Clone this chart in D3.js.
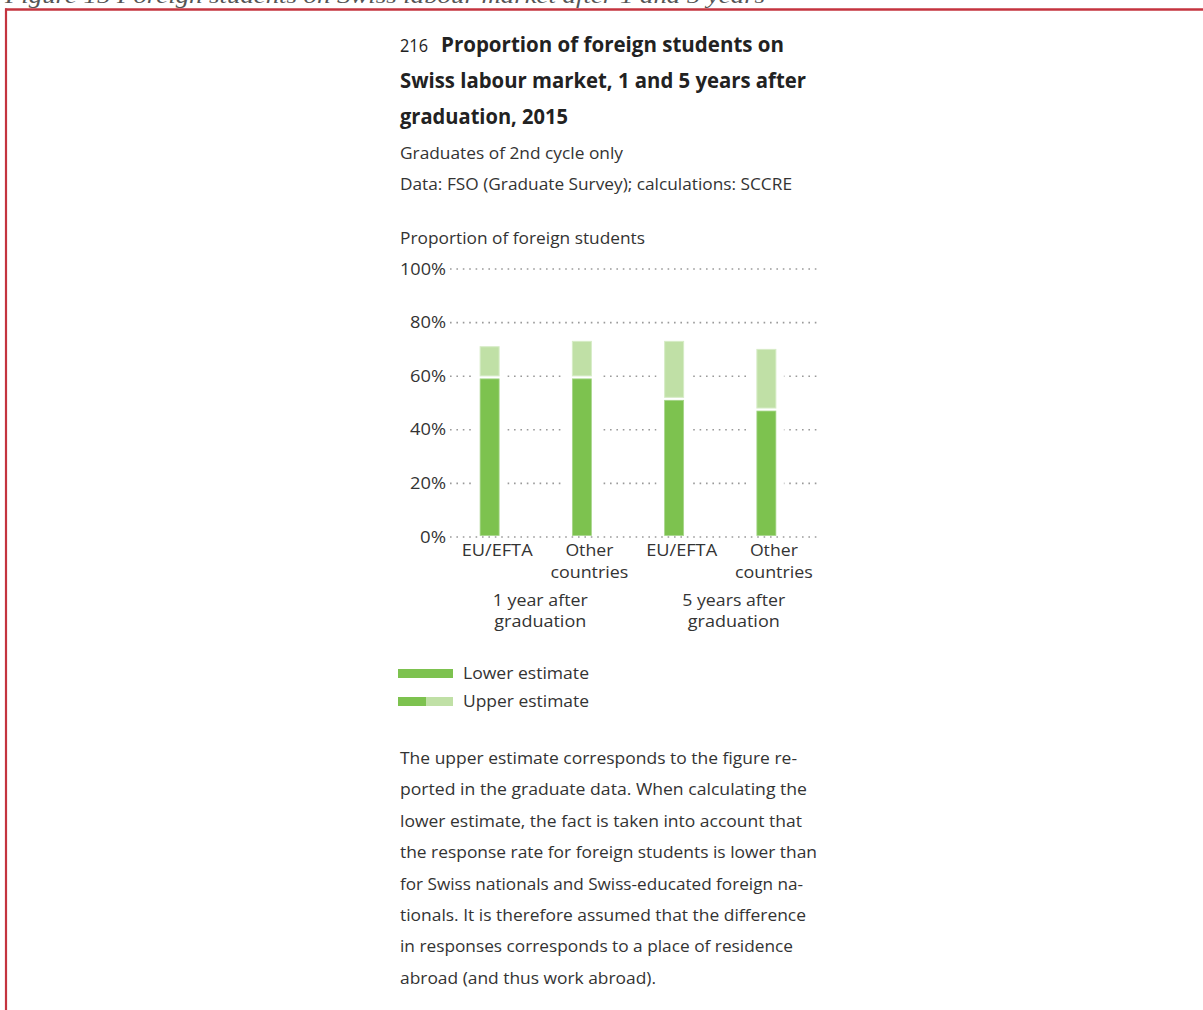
<!DOCTYPE html>
<html><head><meta charset="utf-8">
<script src="https://cdn.jsdelivr.net/npm/d3@7"></script>
<style>
html,body{margin:0;padding:0;background:#fff;}
svg text{font-family:"Liberation Sans Narrow","Arial Narrow","Open Sans",sans-serif;}
</style></head>
<body>
<svg id="c" width="1203" height="1010"></svg>
<script>
const categories = ["EU/EFTA", "Other countries", "EU/EFTA", "Other countries"];
const categoryLines = [["EU/EFTA"], ["Other", "countries"], ["EU/EFTA"], ["Other", "countries"]];
const groups = [["1 year after", "graduation"], ["5 years after", "graduation"]];
const lowerEstimate = [59, 59, 51, 47];
const upperEstimate = [71, 73, 73, 70];
const yTicks = [0, 20, 40, 60, 80, 100];
const yTickLabels = ["0%", "20%", "40%", "60%", "80%", "100%"];
const legendLabels = ["Lower estimate", "Upper estimate"];
const titleNumber = "216";
const titleLines = ["Proportion of foreign students on", "Swiss labour market, 1 and 5 years after", "graduation, 2015"];
const subtitleLines = ["Graduates of 2nd cycle only", "Data: FSO (Graduate Survey); calculations: SCCRE"];
const yAxisTitle = "Proportion of foreign students";
const noteLines = [
  "The upper estimate corresponds to the figure re-",
  "ported in the graduate data. When calculating the",
  "lower estimate, the fact is taken into account that",
  "the response rate for foreign students is lower than",
  "for Swiss nationals and Swiss-educated foreign na-",
  "tionals. It is therefore assumed that the difference",
  "in responses corresponds to a place of residence",
  "abroad (and thus work abroad)."
];
const figureCaption = "Figure 15 Foreign students on Swiss labour market after 1 and 5 years";

const DARK = "#7dc24f", LIGHT = "#c0e0a6", RED = "#c4343f";
const svg = d3.select("#c");

function fitText(sel, w) {
  sel.attr("textLength", w).attr("lengthAdjust", "spacingAndGlyphs");
}

// caption (cut off at top, as in the reference)
svg.append("text").attr("x", 5).attr("y", 3)
  .style("font-family", "'Liberation Serif', 'DejaVu Serif', serif")
  .style("font-style", "italic").style("font-size", "22px").attr("fill", "#555")
  .text(figureCaption).call(fitText, 760);

// red frame
svg.append("line").attr("x1", 5).attr("x2", 1203).attr("y1", 9.5).attr("y2", 9.5)
  .attr("stroke", RED).attr("stroke-width", 2.5);
svg.append("line").attr("x1", 6).attr("x2", 6).attr("y1", 8.5).attr("y2", 1010)
  .attr("stroke", RED).attr("stroke-width", 2.2);

// title
svg.append("text").attr("x", 400).attr("y", 52).style("font-size", "18px").attr("fill", "#222")
  .text(titleNumber).call(fitText, 28);
const titleW = [343, 406, 168];
titleLines.forEach((t, i) => {
  svg.append("text").attr("x", i === 0 ? 441 : 400).attr("y", 52 + i * 36)
    .style("font-size", "21px").style("font-weight", "bold").attr("fill", "#222")
    .text(t).call(fitText, titleW[i]);
});
const subW = [223, 392];
subtitleLines.forEach((t, i) => {
  svg.append("text").attr("x", 400).attr("y", 159 + i * 31)
    .style("font-size", "17px").attr("fill", "#333").text(t).call(fitText, subW[i]);
});
svg.append("text").attr("x", 400).attr("y", 244).style("font-size", "17px").attr("fill", "#333")
  .text(yAxisTitle).call(fitText, 245);

// scales
const y = d3.scaleLinear().domain([0, 100]).range([537, 269]);
const x = d3.scaleBand().domain(d3.range(categories.length)).range([451, 820]);
const barW = 19;
const barX = i => x(i) + x.bandwidth() / 2 - 17;

// gridlines
const grid = svg.append("g");
grid.selectAll("line").data(yTicks).join("line")
  .attr("x1", 450).attr("x2", 818)
  .attr("y1", d => y(d)).attr("y2", d => y(d))
  .attr("stroke", "#9a9a9a").attr("stroke-width", 1.6)
  .attr("stroke-dasharray", "1.6 4.8");

// y tick labels
const tickW = {"0%": 26, "20%": 36, "40%": 36, "60%": 36, "80%": 36, "100%": 46};
const yAxis = d3.axisLeft(y).tickValues(yTicks).tickSize(0).tickPadding(0)
  .tickFormat((d, i) => yTickLabels[i]);
const ya = svg.append("g").attr("transform", "translate(446,0)").call(yAxis);
ya.select(".domain").remove();
ya.selectAll("text").style("font-size", "17px").style("font-family", "'Liberation Sans Narrow','Open Sans',sans-serif")
  .attr("fill", "#333").attr("dy", "0.3em")
  .each(function (d, i) { d3.select(this).call(fitText, tickW[yTickLabels[i]]); });

// white knock-outs behind bars
svg.append("g").selectAll("rect").data(categories).join("rect")
  .attr("x", (d, i) => barX(i) - 8).attr("width", barW + 16)
  .attr("y", (d, i) => y(upperEstimate[i])).attr("height", (d, i) => y(0) - 3 - y(upperEstimate[i]))
  .attr("fill", "#fff");

// upper segment
svg.append("g").selectAll("rect").data(categories).join("rect")
  .attr("x", (d, i) => barX(i)).attr("width", barW)
  .attr("y", (d, i) => y(upperEstimate[i]))
  .attr("height", (d, i) => y(lowerEstimate[i]) - y(upperEstimate[i]) - 3)
  .attr("fill", LIGHT).attr("stroke", "#d6ecc6").attr("stroke-width", 1);
// lower segment
svg.append("g").selectAll("rect").data(categories).join("rect")
  .attr("x", (d, i) => barX(i)).attr("width", barW)
  .attr("y", (d, i) => y(lowerEstimate[i]))
  .attr("height", (d, i) => y(0) - 1.5 - y(lowerEstimate[i]))
  .attr("fill", DARK).attr("stroke", "#a6d58a").attr("stroke-width", 0.8);

// x labels
const labelW = {"EU/EFTA": 71, "Other": 48, "countries": 78};
categoryLines.forEach((lines, i) => {
  lines.forEach((t, j) => {
    svg.append("text").attr("x", x(i) + x.bandwidth() / 2).attr("y", 556 + j * 22)
      .attr("text-anchor", "middle").style("font-size", "17px").attr("fill", "#333")
      .text(t).call(fitText, labelW[t]);
  });
});
const groupW = {"1 year after": 95, "5 years after": 103, "graduation": 92};
groups.forEach((lines, g) => {
  const cx = (x(2 * g) + x(2 * g + 1) + x.bandwidth()) / 2 + (g === 0 ? -3 : 6);
  lines.forEach((t, j) => {
    svg.append("text").attr("x", cx).attr("y", 606 + j * 21)
      .attr("text-anchor", "middle").style("font-size", "17px").attr("fill", "#333")
      .text(t).call(fitText, groupW[t]);
  });
});

// legend
const lg = svg.append("g").attr("transform", "translate(398,669)");
lg.append("rect").attr("x", 0).attr("y", 0).attr("width", 55).attr("height", 9).attr("fill", DARK);
lg.append("rect").attr("x", 0).attr("y", 28).attr("width", 28).attr("height", 9).attr("fill", DARK);
lg.append("rect").attr("x", 28).attr("y", 28).attr("width", 27).attr("height", 9).attr("fill", LIGHT);
const legW = [126, 126];
legendLabels.forEach((t, i) => {
  lg.append("text").attr("x", 65).attr("y", 10 + i * 28).style("font-size", "17px").attr("fill", "#333")
    .text(t).call(fitText, legW[i]);
});

// note
const noteW = [397, 407, 402, 417, 403, 406, 393, 256];
noteLines.forEach((t, i) => {
  svg.append("text").attr("x", 400).attr("y", 764 + i * 31.4).style("font-size", "17px").attr("fill", "#333")
    .text(t).call(fitText, noteW[i]);
});
</script>
</body></html>
